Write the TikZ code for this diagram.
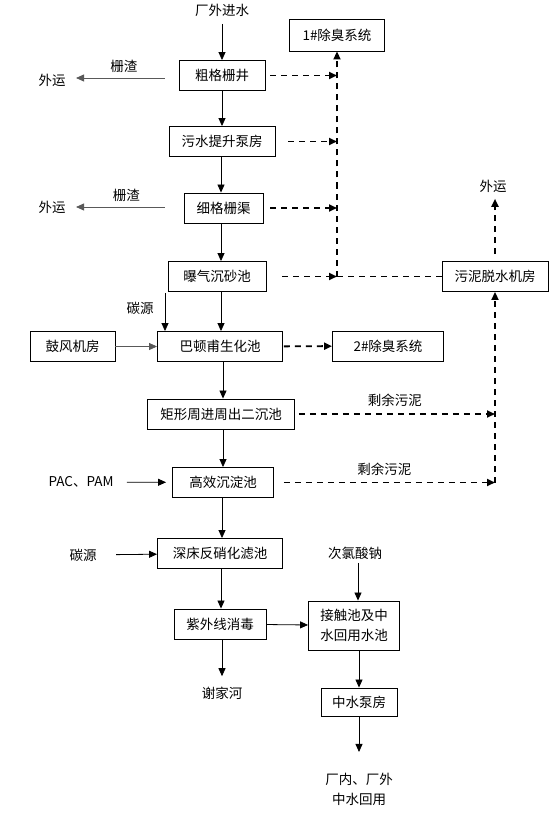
\documentclass[tikz,border=0pt]{standalone}
\usepackage{fontspec}
\setmainfont{Noto Sans CJK SC}
\usetikzlibrary{arrows.meta}

\begin{document}
\begin{tikzpicture}[x=1pt,y=-1pt,font=\fontsize{13.5}{19.5}\selectfont,
  box/.style={draw,line width=0.9pt,minimum height=30,inner sep=0pt},
  tip/.style={-{Triangle[length=8pt,width=7pt]}},
  flow/.style={tip,line width=0.8pt},
  side/.style={flow,draw=gray!70!black},
  gas/.style={tip,line width=1.9pt,dash pattern=on 6pt off 5pt}]

\useasboundingbox (0,0) rectangle (556,821);

\def\colx{221}

% main line
\node (in) at (222,10) {厂外进水};
\node[box,minimum width=86] (cg) at (222,75.5) {粗格栅井};
\node[box,minimum width=106] (ts) at (222,141.5) {污水提升泵房};
\node[box,minimum width=79] (xg) at (223.5,208) {细格栅渠};
\node[box,minimum width=98] (pq) at (217,276.5) {曝气沉砂池};
\node[box,minimum width=125] (bd) at (220,346.5) {巴顿甫生化池};
\node[box,minimum width=147] (jx) at (221,414) {矩形周进周出二沉池};
\node[box,minimum width=101] (gx) at (223,482.5) {高效沉淀池};
\node[box,minimum width=125] (sc) at (220,553.5) {深床反硝化滤池};
\node[box,minimum width=92] (zw) at (220,624) {紫外线消毒};
\node (xj) at (222,693) {谢家河};

\node[box,minimum width=91,minimum height=49,align=center] (jc) at (354,625.5) {接触池及中\\水回用水池};
\node[box,minimum width=76,minimum height=28] (zb) at (359,702) {中水泵房};
\node[align=center] (out) at (359,789.5) {厂内、厂外\\中水回用};
\node (cl) at (355,553) {次氯酸钠};

% side inputs
\node (wy1) at (52,80) {外运};
\node (wy2) at (52,207) {外运};
\node (ty1) at (140,308) {碳源};
\node[box,minimum width=85] (gf) at (72.5,346.5) {鼓风机房};
\node (pac) at (81,482) {PAC、PAM};
\node (ty2) at (83,555) {碳源};

% odour and sludge
\node[box,minimum width=95,minimum height=32] (cc1) at (337,35) {1\#除臭系统};
\node[box,minimum width=111] (cc2) at (388,346) {2\#除臭系统};
\node[box,minimum width=106] (wn) at (495,276.5) {污泥脱水机房};
\node (wy3) at (493,186) {外运};

\coordinate (jn) at (337,276.5);
\coordinate (jr) at (495,482.5);
\coordinate (ty1a) at (165,293);

\draw[flow,shorten <=4pt] (in) -- (in |- cg.north);
\draw[flow] (cg) -- (ts);
\draw[flow] (ts.south -| \colx,0) -- (xg.north -| \colx,0);
\draw[flow] (xg.south -| \colx,0) -- (pq.north -| \colx,0);
\draw[flow] (pq.south -| \colx,0) -- (bd.north -| \colx,0);
\draw[flow] (bd.south -| 223,0) -- (jx.north -| 223,0);
\draw[flow] (jx.south -| 223,0) -- (gx.north -| 223,0);
\draw[flow] (gx.south -| 222,0) -- (sc.north -| 222,0);
\draw[flow] (sc.south -| \colx,0) -- (zw.north -| \colx,0);
\draw[flow,shorten >=7pt] (zw.south -| 222,0) -- (xj);
\draw[flow] (zw) -- (jc);
\draw[flow] (cl.south -| 358,0) -- (jc.north -| 358,0);
\draw[flow] (jc.south -| zb.north) -- (zb.north);
\draw[flow,shorten >=18pt] (zb) -- (out);

\draw[side,shorten <=14pt,shorten >=7pt] (cg.west |- 0,78) -- (wy1.east |- 0,78) node[midway,above=2pt,black] (zz1) {栅渣};
\draw[side,shorten <=19pt,shorten >=7pt] (xg.west |- 0,207) -- (wy2.east |- 0,207) node[midway,above=2pt,black] (zz2) {栅渣};
\draw[flow] (ty1a) -- (ty1a |- bd.north);
\draw[side] (gf) -- (bd);
\draw[flow,shorten <=10pt,shorten >=6pt] (pac) -- (gx);
\draw[flow,shorten <=16pt] (ty2) -- (sc);

\draw[gas,shorten <=5pt] (cg.east) -- (cg.east -| jn);
\draw[gas,shorten <=13pt] (ts.east) -- (ts.east -| jn);
\draw[gas,shorten <=7pt] (xg.east) -- (xg.east -| jn);
\draw[gas,shorten <=16pt] (pq.east) -- (jn);
\draw[gas,-] (wn.west) -- (jn);
\draw[gas] (jn) -- (cc1.south);
\draw[gas,shorten <=1pt] (bd) -- (cc2);
\draw[gas,shorten <=4pt] (jx.east) -- (jx.east -| jr) node[midway,above=3pt] (sn1) {剩余污泥};
\draw[gas,shorten <=10pt] (gx.east) -- (jr) node[midway,above=3pt] (sn2) {剩余污泥};
\draw[gas] (jr) -- (wn.south);
\draw[gas,shorten <=7pt,shorten >=3pt] (wn.north) -- (wy3.south -| wn.north);

\end{tikzpicture}
\end{document}
